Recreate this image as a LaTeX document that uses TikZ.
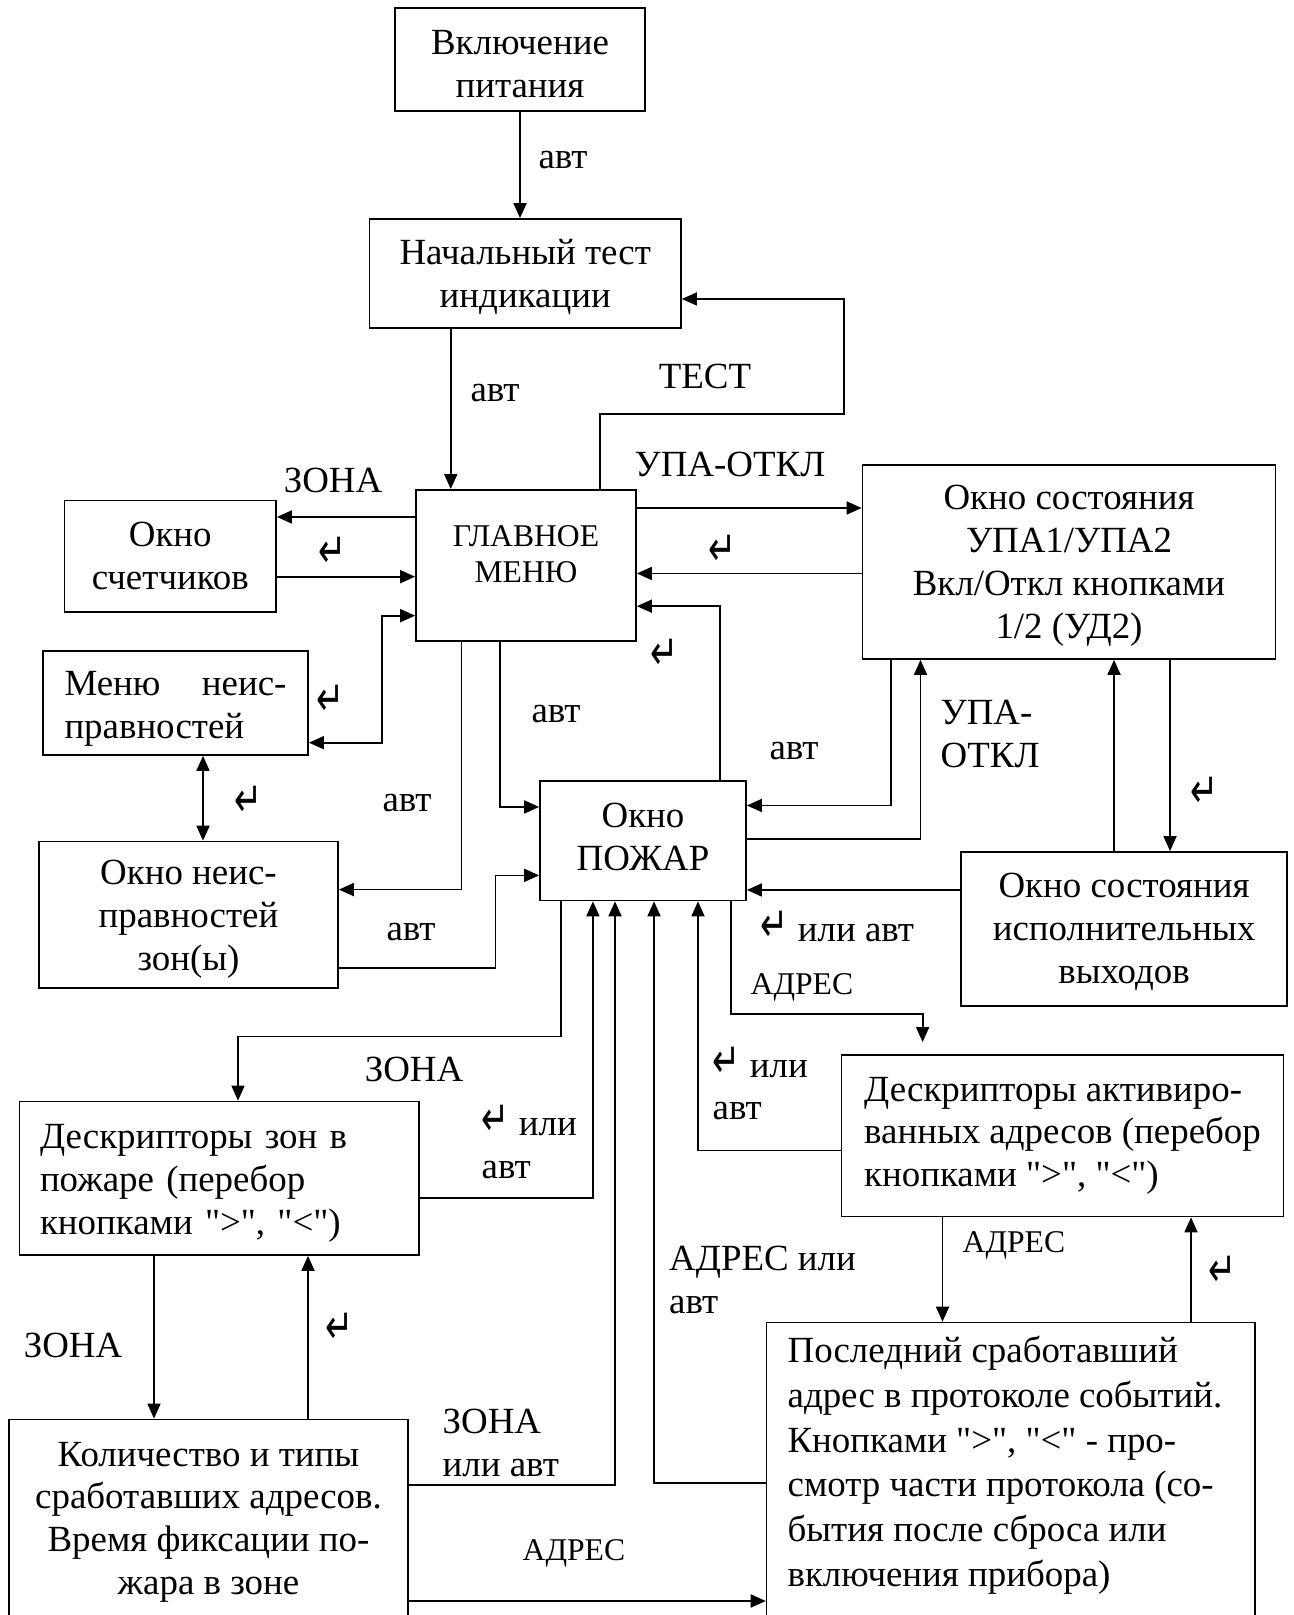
\documentclass[tikz,border=0pt]{standalone}
\usepackage{fontspec}
\setmainfont{Liberation Serif}[Ligatures=TeXOff]
\newfontfamily\arrowfont{DejaVu Sans}
\usetikzlibrary{arrows.meta}

\newcommand{\mainsize}{\fontsize{10.5}{12.2}\selectfont}
\newcommand{\smallsize}{\fontsize{9}{10.4}\selectfont}
\newcommand{\retsym}{{\arrowfont\fontsize{9.5}{9.5}\selectfont\scalebox{1}[1.45]{↵}}}
\newcommand{\topgap}[1]{\rule{0pt}{#1}}
\newcommand{\botgap}[1]{\rule[-#1]{0pt}{0pt}}

\tikzset{
  box/.style={draw, line width=0.5pt, inner sep=0pt, align=center},
  conn/.style={line width=0.5pt, -{Triangle[length=0.15cm,width=0.13cm]}},
  twoway/.style={line width=0.5pt, {Triangle[length=0.15cm,width=0.13cm]}-{Triangle[length=0.15cm,width=0.13cm]}},
  lbl/.style={inner sep=0pt}
}

\begin{document}
\begin{tikzpicture}
                        \useasboundingbox (0,0) rectangle (12.930000,16.150000);
                        \clip (0,0) rectangle (12.930000,16.150000);
                        {\mainsize

                        % Drawing box power
                        \node [box, minimum width=2.500000cm, minimum height=1.030000cm] (power) at (5.200000,15.555000) {\topgap{0.34cm}Включение\\питания};%

                        % Drawing box test
                        \node [box, minimum width=3.115000cm, minimum height=1.090000cm] (test) at (5.252500,13.415000) {\topgap{0.33cm}Начальный тест\\индикации};%

                        % Drawing box menu
                        \node [box, font=\smallsize, minimum width=2.200000cm, minimum height=1.510000cm] (menu) at (5.260000,10.495000) {ГЛАВНОЕ\\МЕНЮ\botgap{0.23cm}};%

                        % Drawing box count
                        \node [box, minimum width=2.115000cm, minimum height=1.112000cm] (count) at (1.702500,10.589000) {Окно\\счетчиков};%

                        % Drawing box mfault
                        \node [box, align=left, text width=2.220000cm, minimum width=2.650000cm, minimum height=1.040000cm] (mfault) at (1.755000,9.120000) {\topgap{0.36cm}Меню\hfill неис-\\правностей};%

                        % Drawing box zfault
                        \node [box, minimum width=2.990000cm, minimum height=1.464000cm] (zfault) at (1.885000,7.002000) {\topgap{0.34cm}Окно неис-\\правностей\\зон(ы)};%

                        % Drawing box fire
                        \node [box, minimum width=2.060000cm, minimum height=1.195000cm] (fire) at (6.430000,7.742500) {Окно\\ПОЖАР\botgap{0.08cm}};%

                        % Drawing box upa
                        \node [box, minimum width=4.130000cm, minimum height=1.940000cm] (upa) at (10.690000,10.530000) {\topgap{0.32cm}Окно состояния\\УПА1/УПА2\\Вкл/Откл кнопками\\1/2 (УД2)};%

                        % Drawing box outs
                        \node [box, minimum width=3.260000cm, minimum height=1.540000cm] (outs) at (11.240000,6.860000) {\topgap{0.30cm}Окно состояния\\исполнительных\\выходов};%

                        % Drawing box adesc
                        \node [box, align=left, minimum width=4.420000cm, minimum height=1.615000cm] (adesc) at (10.625000,4.792500) {Дескрипторы активиро-\\ванных адресов (перебор\\кнопками ">", "<")};%

                        % Drawing box zdesc
                        \node [box, align=left, text width=3.584000cm, minimum width=3.992000cm, minimum height=1.535000cm] (zdesc) at (2.192000,4.367500) {\topgap{0.34cm}Дескрипторы зон в\\пожаре (перебор\\кнопками ">", "<")};%

                        % Drawing box qty
                        \node [box, minimum width=3.990000cm, minimum height=2.055000cm] (qty) at (2.085000,0.927500) {Количество и типы\\сработавших адресов.\\Время фиксации по-\\жара в зоне};%

                        % Drawing box last
                        \node [box, anchor=north, inner xsep=0.21cm, inner ysep=0.14cm] (last) at (10.108000,2.933000) {\parbox[c][3.100000cm][t]{4.464000cm}{\fontsize{10.5}{12.7}\selectfont\raggedright Последний сработавший\\адрес в протоколе событий.\\Кнопками ">", "<" - про-\\смотр части протокола (со-\\бытия после сброса или\\включения прибора)}};%

                        % Drawing arrow power-test
                        \draw [conn] (power.south) -- (power.south |- test.north);%

                        % Drawing arrow test-menu
                        \draw [conn] ([xshift=-0.745cm]test.south) coordinate (t1) -- (t1 |- menu.north);%

                        % Drawing arrow menu-test
                        \draw [conn] ([xshift=0.740cm]menu.north) -- ++(0,0.750) -| ([xshift=1.620cm,yshift=-0.255cm]test.east) -- ([yshift=-0.255cm]test.east);%

                        % Drawing arrow menu-upa
                        \draw [conn] ([yshift=0.575cm]menu.east) coordinate (m1) -- (m1 -| upa.west);%

                        % Drawing arrow upa-menu
                        \draw [conn] ([yshift=-0.115cm]upa.west) coordinate (u1) -- (u1 -| menu.east);%

                        % Drawing arrow menu-count
                        \draw [conn] ([yshift=0.485cm]menu.west) coordinate (m2) -- (m2 -| count.east);%

                        % Drawing arrow count-menu
                        \draw [conn] ([yshift=-0.206cm]count.east) coordinate (c1) -- (c1 -| menu.west);%

                        % Drawing arrow mfault-menu
                        \draw [twoway] ([yshift=-0.397cm]mfault.east) -| ([xshift=-0.330cm,yshift=-0.502cm]menu.west) -- ([yshift=-0.502cm]menu.west);%

                        % Drawing arrow mfault-zfault
                        \draw [twoway] ([xshift=0.275cm]mfault.south) coordinate (f1) -- (f1 |- zfault.north);%

                        % Drawing arrow menu-zfault
                        \draw [conn] ([xshift=-0.646cm]menu.south) |- ([yshift=0.252cm]zfault.east);%

                        % Drawing arrow menu-fire
                        \draw [conn] ([xshift=-0.260cm]menu.south) |- ([yshift=0.3375cm]fire.west);%

                        % Drawing arrow fire-menu
                        \draw [conn] ([xshift=0.767cm]fire.north) |- ([yshift=-0.407cm]menu.east);%

                        % Drawing arrow upa-fire
                        \draw [conn] ([xshift=-1.783cm]upa.south) |- ([yshift=0.3525cm]fire.east);%

                        % Drawing arrow fire-upa
                        \draw [conn] ([yshift=0.020cm]fire.east) -| ([xshift=-1.485cm]upa.south);%

                        % Drawing arrow upa-outs
                        \draw [conn] ([xshift=1.010cm]upa.south) coordinate (u3) -- (u3 |- outs.north);%

                        % Drawing arrow outs-upa
                        \draw [conn] ([xshift=-0.100cm]outs.north) coordinate (o1) -- (o1 |- upa.south);%

                        % Drawing arrow outs-fire
                        \draw [conn] ([yshift=0.390cm]outs.west) coordinate (o2) -- (o2 -| fire.east);%

                        % Drawing arrow zfault-fire
                        \draw [conn] ([yshift=-0.532cm]zfault.east) -| ([xshift=-0.436cm,yshift=-0.3465cm]fire.west) -- ([yshift=-0.3465cm]fire.west);%

                        % Drawing arrow fire-zdesc
                        \draw [conn] ([xshift=-0.820cm]fire.south) |- ([xshift=0.188cm,yshift=0.640cm]zdesc.north) -- ([xshift=0.188cm]zdesc.north);%

                        % Drawing arrow zdesc-fire
                        \draw [conn] ([yshift=-0.194cm]zdesc.east) -| ([xshift=-0.501cm]fire.south);%

                        % Drawing arrow zdesc-qty
                        \draw [conn] ([xshift=-0.652cm]zdesc.south) coordinate (z1) -- (z1 |- qty.north);%

                        % Drawing arrow qty-zdesc
                        \draw [conn] ([xshift=0.995cm]qty.north) coordinate (q1) -- (q1 |- zdesc.south);%

                        % Drawing arrow qty-fire
                        \draw [conn] ([yshift=0.3725cm]qty.east) -| ([xshift=-0.280cm]fire.south);%

                        % Drawing arrow last-fire
                        \draw [conn] ([yshift=0.087cm]last.west) -| ([xshift=0.110cm]fire.south);%

                        % Drawing arrow adesc-fire
                        \draw [conn] ([yshift=-0.1465cm]adesc.west) -| ([xshift=0.550cm]fire.south);%

                        % Drawing arrow fire-adesc
                        \draw [conn, shorten >=0.12cm] ([xshift=0.880cm]fire.south) |- ([xshift=-1.399cm,yshift=0.400cm]adesc.north) -- ([xshift=-1.399cm]adesc.north);%

                        % Drawing arrow adesc-last
                        \draw [conn] ([xshift=-1.200cm]adesc.south) coordinate (a2) -- (a2 |- last.north);%

                        % Drawing arrow last-adesc
                        \draw [conn] ([xshift=1.802cm]last.north) coordinate (l2) -- (l2 |- adesc.south);%

                        % Drawing arrow qty-last
                        \draw [conn] ([yshift=-0.7875cm]qty.east) coordinate (q2) -- (q2 -| last.west);%

                        % Marking labels
                        \node [lbl] (lAvtA) at (5.630000,14.550000) {авт};%
                        \node [lbl] (lAvtB) at (4.950000,12.220000) {авт};%
                        \node [lbl] (lTest) at (7.050000,12.390000) {ТЕСТ};%
                        \node [lbl] (lUpaA) at (7.300000,11.510000) {УПА-ОТКЛ};%
                        \node [lbl] (lRetA) at (7.220000,10.650000) {\retsym};%
                        \node [lbl] (lZonaA) at (3.330000,11.350000) {ЗОНА};%
                        \node [lbl] (lRetB) at (3.320000,10.630000) {\retsym};%
                        \node [lbl] (lRetC) at (3.300000,9.150000) {\retsym};%
                        \node [lbl] (lRetD) at (2.480000,8.140000) {\retsym};%
                        \node [lbl] (lAvtC) at (4.070000,8.120000) {авт};%
                        \node [lbl] (lAvtD) at (5.560000,9.010000) {авт};%
                        \node [lbl] (lRetE) at (6.640000,9.610000) {\retsym};%
                        \node [lbl] (lAvtE) at (7.940000,8.640000) {авт};%
                        \node [lbl, anchor=west, align=left] (lUpaB) at (9.400000,8.810000) {УПА-\\ОТКЛ};%
                        \node [lbl] (lRetF) at (12.040000,8.230000) {\retsym};%
                        \node [lbl, anchor=west] (lRetOrA) at (7.600000,6.880000) {\retsym{} или авт};%
                        \node [lbl] (lAvtF) at (4.110000,6.830000) {авт};%
                        \node [lbl] (lZonaB) at (4.140000,5.460000) {ЗОНА};%
                        \node [lbl, anchor=west, align=left] (lRetOrB) at (4.810000,4.730000) {\retsym{} или\\авт};%
                        \node [lbl] (lZonaC) at (0.730000,2.700000) {ЗОНА};%
                        \node [lbl] (lRetG) at (3.390000,2.870000) {\retsym};%
                        \node [lbl, anchor=west, align=left] (lZonaOr) at (4.420000,1.720000) {ЗОНА\\или авт};%
                        \node [lbl, anchor=west, align=left] (lAdrOr) at (6.685000,3.350000) {АДРЕС или\\авт};%
                        \node [lbl, anchor=west, align=left] (lRetOrC) at (7.120000,5.315000) {\retsym{} или\\авт};%
                        \node [lbl, anchor=west, font=\smallsize] (lAdrA) at (7.500000,6.280000) {АДРЕС};%
                        \node [lbl, anchor=west, font=\smallsize] (lAdrB) at (9.620000,3.700000) {АДРЕС};%
                        \node [lbl] (lRetH) at (12.220000,3.440000) {\retsym};%
                        \node [lbl, anchor=west, font=\smallsize] (lAdrC) at (5.220000,0.620000) {АДРЕС};%
                        }
\end{tikzpicture}
\end{document}
